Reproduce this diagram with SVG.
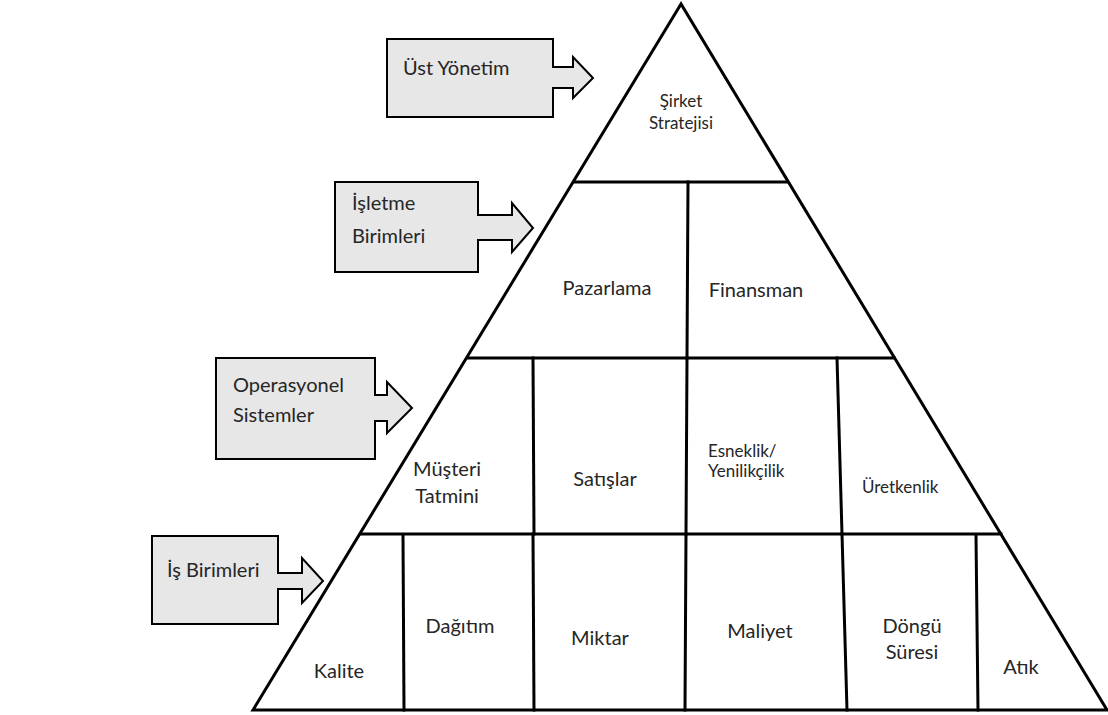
<svg xmlns="http://www.w3.org/2000/svg" width="1108" height="715" viewBox="0 0 1108 715">
<style>
.callout{fill:#e7e7e7;stroke:#000;stroke-width:2;stroke-linejoin:miter}
.ln{stroke:#000;stroke-width:3;fill:none;stroke-linecap:square}
.tri{stroke:#000;stroke-width:3;fill:#fff;stroke-linejoin:miter}
text{font-family:Lato,"Open Sans","Noto Sans",sans-serif;fill:#262626}
.big{font-size:20px}
.sm{font-size:17px}
.c{text-anchor:middle}
</style>
<rect width="1108" height="715" fill="#fff"/>
<g id="pyramid">
<polygon class="tri" points="681,4 253,710 1107,710"/>
<line class="ln" x1="575" y1="182" x2="787" y2="182"/>
<line class="ln" x1="468" y1="358" x2="894" y2="358"/>
<line class="ln" x1="361" y1="534" x2="1001" y2="534"/>
<line class="ln" x1="688" y1="182" x2="687" y2="358"/>
<line class="ln" x1="533" y1="358" x2="534" y2="534"/>
<line class="ln" x1="687" y1="358" x2="686" y2="534"/>
<line class="ln" x1="837" y1="358" x2="842" y2="534"/>
<line class="ln" x1="403" y1="535" x2="404" y2="710"/>
<line class="ln" x1="533" y1="534" x2="534" y2="710"/>
<line class="ln" x1="686" y1="534" x2="685" y2="710"/>
<line class="ln" x1="842" y1="534" x2="847" y2="710"/>
<line class="ln" x1="976" y1="536" x2="978" y2="710"/>
</g>
<g id="connectors"></g>
<g id="ust-yonetim">
<path class="callout" d="M387,39 H553 V67 H573 V57 L593,78 L573,98 V88 H553 V117 H387 Z"/>
<text class="big" x="403" y="75">Üst Yönetim</text>
</g>
<g id="isletme-birimleri">
<path class="callout" d="M335,182 H478 V215 H512 V203 L533,228 L512,252 V240 H478 V272 H335 Z"/>
<text class="big" x="352" y="210">İşletme</text>
<text class="big" x="352" y="243">Birimleri</text>
</g>
<g id="operasyonel-sistemler">
<path class="callout" d="M216,358 H375 V395 H387 V382 L412,408 L387,433 V421 H375 V459 H216 Z"/>
<text class="big" x="233" y="392">Operasyonel</text>
<text class="big" x="233" y="422">Sistemler</text>
</g>
<g id="is-birimleri">
<path class="callout" d="M152,536 H278 V573 H302 V558 L323,581 L302,603 V589 H278 V624 H152 Z"/>
<text class="big" x="167" y="577">İş Birimleri</text>
</g>
<g id="sirket-stratejisi">
<text class="sm c" x="681" y="107">Şirket</text>
<text class="sm c" x="681" y="129">Stratejisi</text>
</g>
<g id="pazarlama"><text class="big c" x="607" y="295">Pazarlama</text></g>
<g id="finansman"><text class="big c" x="756" y="297">Finansman</text></g>
<g id="musteri-tatmini">
<text class="big c" x="447" y="476">Müşteri</text>
<text class="big c" x="447" y="503">Tatmini</text>
</g>
<g id="satislar"><text class="big c" x="605" y="486">Satışlar</text></g>
<g id="esneklik">
<text class="sm" x="708" y="457">Esneklik/</text>
<text class="sm" x="708" y="477">Yenilikçilik</text>
</g>
<g id="uretkenlik"><text class="sm" x="862" y="493">Üretkenlik</text></g>
<g id="kalite"><text class="big c" x="339" y="678">Kalite</text></g>
<g id="dagitim"><text class="big c" x="460" y="633">Dağıtım</text></g>
<g id="miktar"><text class="big c" x="600" y="645">Miktar</text></g>
<g id="maliyet"><text class="big c" x="760" y="638">Maliyet</text></g>
<g id="dongu-suresi">
<text class="big c" x="912" y="633">Döngü</text>
<text class="big c" x="912" y="659">Süresi</text>
</g>
<g id="atik"><text class="big c" x="1021" y="674">Atık</text></g>
</svg>
